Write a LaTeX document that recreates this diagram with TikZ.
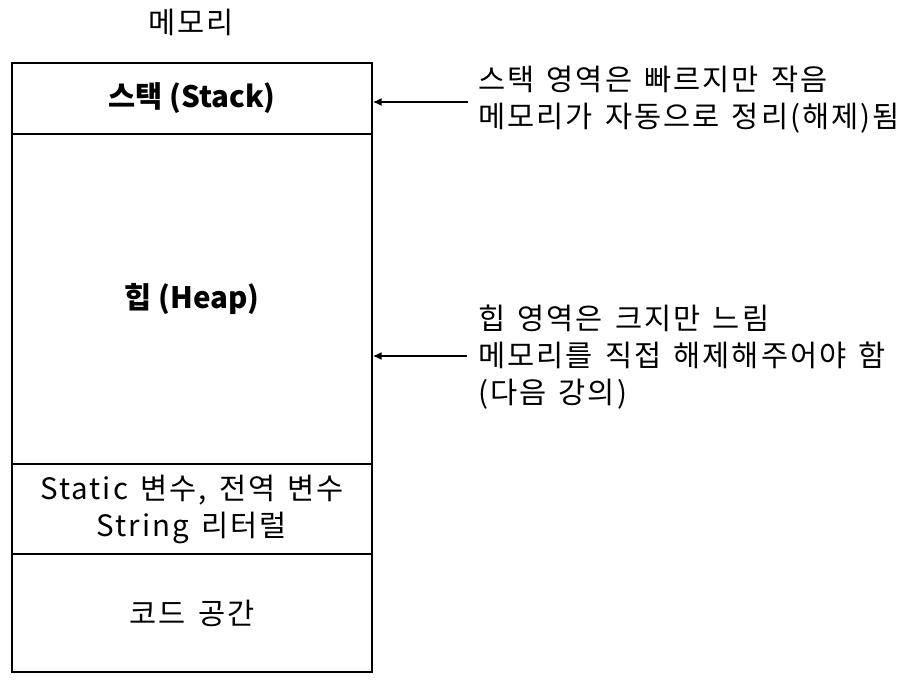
\documentclass[tikz,border=0pt]{standalone}
\usepackage{fontspec}
\setmainfont{Noto Sans CJK KR}[LetterSpace=7, WordSpace=1.4, BoldFeatures={LetterSpace=0, WordSpace=1}]
\usetikzlibrary{arrows.meta}
\begin{document}
\begin{tikzpicture}[x=1pt, y=-1pt, font=\fontsize{29.5}{37}\selectfont,
	area/.style={draw, line width=1.2pt, minimum width=360pt, inner sep=0pt, align=center},
	note/.style={anchor=west, align=left, inner sep=0pt},
	pointer/.style={-{Latex[length=9pt,width=8pt]}, line width=1.8pt}]
	\useasboundingbox (0,0) rectangle (912,681);
	\node (title) at (191,22) {메모리};

	\node[area, minimum height=71pt] (stack) at (192,98.5) {\bfseries 스택 (Stack)};
	\node[area, minimum height=330pt] (heap) at (192,299) {\bfseries 힙 (Heap)};
	\node[area, minimum height=90pt] (static) at (192,509) {Static 변수, 전역 변수\\String 리터럴};
	\node[area, minimum height=118pt] (code) at (192,613) {코드 공간};

	\node[note] (stacknote) at (478,100) {스택 영역은 빠르지만 작음\\메모리가 자동으로 정리(해제)됨};
	\coordinate (stackfrom) at (468,102);
	\draw[pointer] (stackfrom) -- (stackfrom -| stack.east);

	\node[note] (heapnote) at (478,357) {힙 영역은 크지만 느림\\메모리를 직접 해제해주어야 함\\(다음 강의)};
	\coordinate (heapfrom) at (467,356);
	\draw[pointer] (heapfrom) -- (heapfrom -| heap.east);
\end{tikzpicture}
\end{document}
